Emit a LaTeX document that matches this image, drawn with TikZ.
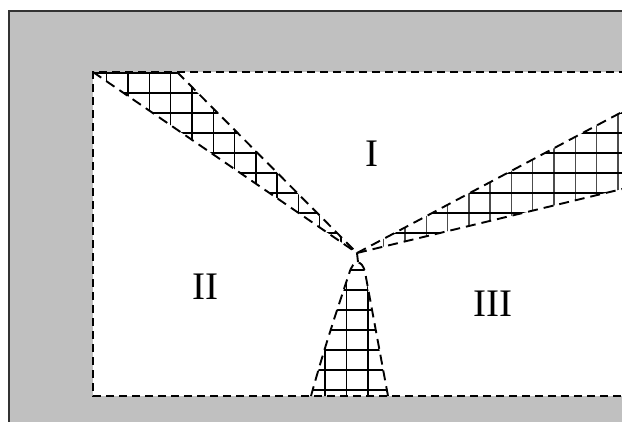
\documentclass[tikz,border=0pt]{standalone}
\usepackage{fontspec}
\setmainfont{Liberation Serif}
\definecolor{bggray}{HTML}{C0C0C0}
\tikzset{
  rectdash/.style={line width=2.2pt, dash pattern=on 8pt off 5pt},
  wedgedash/.style={line width=1.9pt, dash pattern=on 10pt off 6pt},
  gridline/.style={line width=1.4pt, black},
  label/.style={inner sep=0pt, font=\fontsize{39}{39}\selectfont}
}
\begin{document}
\begin{tikzpicture}[x=1pt,y=-1pt]
\useasboundingbox (0,0) rectangle (622,421);
\clip (0,0) rectangle (622,421);
\fill[white] (0,0) rectangle (622,421);
\fill[bggray] (9,11) rectangle (640,440);
\draw[line width=2pt, black!80] (9,440) -- (9,11) -- (640,11);
\fill[white] (93,72) rectangle (640,396);
\coordinate (A) at (357,253);
\coordinate (TL) at (93,72);
\coordinate (TU) at (177,72);
\coordinate (RU) at (640,102.4);
\coordinate (RL) at (640,184.7);
\coordinate (BL) at (311,396);
\coordinate (BR) at (388,396);
% left wedge grid
\begin{scope}
\clip (TL) -- (TU) -- (A) -- cycle;
\foreach \i in {-2,...,12} \draw[gridline] ({128+21.3*\i},60) -- ({128+21.3*\i},270);
\foreach \j in {0,...,10} \draw[gridline] (80,{73+20*\j}) -- (380,{73+20*\j});
\end{scope}
% right wedge grid
\begin{scope}
\clip (A) -- (RU) -- (RL) -- cycle;
\foreach \i in {10,...,25} \draw[gridline, black!70] ({128+21.3*\i},90) -- ({128+21.3*\i},270);
\foreach \j in {1,...,10} \draw[gridline] (340,{73+20*\j}) -- (640,{73+20*\j});
\end{scope}
% bottom wedge grid
\begin{scope}
\clip (BL) .. controls (325,345) and (343,292) .. (349,274)
   .. controls (353,259) and (362,259) .. (365,272) -- (BR) -- cycle;
\foreach \i in {-2,...,3} \draw[gridline] ({325+21.5*\i},250) -- ({325+21.5*\i},400);
\foreach \j in {0,...,6} \draw[gridline] (290,{270+20*\j}) -- (400,{270+20*\j});
\end{scope}
\draw[wedgedash] (BL) .. controls (325,345) and (343,292) .. (349,274)
   .. controls (353,259) and (362,259) .. (365,272) -- (BR);
\draw[wedgedash] (A) -- (358,262);
% wedge edges
\draw[wedgedash] (TL) -- (A);
\draw[wedgedash] (TU) -- (A);
\draw[wedgedash] (A) -- (RU);
\draw[wedgedash] (A) -- (RL);
% inner rectangle dashed border
\draw[rectdash] (640,72) -- (TL) -- (93,396) -- (640,396);
% labels
\node[label] (r1) at (372,154) {I};
\node[label] (r2) at (205,287) {II};
\node[label] (r3) at (493,304) {III};
\end{tikzpicture}
\end{document}
